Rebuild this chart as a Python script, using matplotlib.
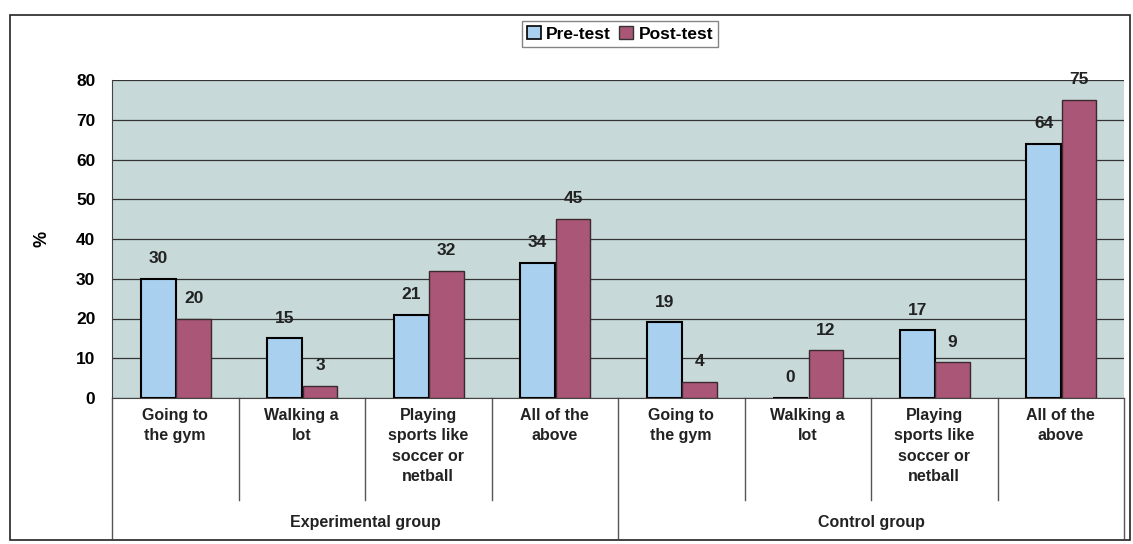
import matplotlib
matplotlib.use("Agg")
import matplotlib.pyplot as plt
from matplotlib.patches import Rectangle, Patch
from matplotlib.lines import Line2D
import numpy as np

plt.rcParams['font.family'] = ['Liberation Sans', 'DejaVu Sans']
plt.rcParams['font.weight'] = 'bold'

categories = ["Going to\nthe gym", "Walking a\nlot", "Playing\nsports like\nsoccer or\nnetball", "All of the\nabove",
              "Going to\nthe gym", "Walking a\nlot", "Playing\nsports like\nsoccer or\nnetball", "All of the\nabove"]
groups = ["Experimental group", "Control group"]
pre_test = [30, 15, 21, 34, 19, 0, 17, 64]
post_test = [20, 3, 32, 45, 4, 12, 9, 75]
yticks = [0, 10, 20, 30, 40, 50, 60, 70, 80]

W, H = 1133, 544
fig = plt.figure(figsize=(W/100, H/100), dpi=100)
fig.patch.set_facecolor('white')

left_px, right_px, top_px, bot_px = 112, 1124, 80, 398
ax = fig.add_axes([left_px/W, 1-bot_px/H, (right_px-left_px)/W, (bot_px-top_px)/H])
ax.set_facecolor('#c8d9d9')

n = len(categories)
x = np.arange(n)
bw = 0.275
c_pre = '#a9d0ef'
c_post = '#aa5676'
ax.bar(x - 0.135, pre_test, bw, color=c_pre, edgecolor='black', linewidth=1.5, zorder=3)
ax.bar(x + 0.145, post_test, bw, color=c_post, edgecolor='#3a2a2e', linewidth=1.0, zorder=3)

for i in range(n):
    ax.text(x[i] - 0.135, pre_test[i] + 3.2, str(pre_test[i]), ha='center', va='bottom',
            fontsize=12.5, fontweight='bold', color='#222222')
    ax.text(x[i] + 0.145, post_test[i] + 3.2, str(post_test[i]), ha='center', va='bottom',
            fontsize=12.5, fontweight='bold', color='#222222')

ax.set_xlim(-0.5, n - 0.5)
ax.set_ylim(0, 80)
ax.set_yticks(yticks)
ax.set_yticklabels([str(v) for v in yticks], fontsize=12.5, fontweight='bold')
ax.tick_params(axis='y', length=0, pad=12)
ax.set_xticks([])
ax.yaxis.grid(True, color='#333333', linewidth=0.9, zorder=1)
ax.set_axisbelow(True)
for s in ['top', 'right']:
    ax.spines[s].set_visible(False)
ax.spines['left'].set_color('#444444')
ax.spines['bottom'].set_color('#444444')
ax.set_ylabel('%', fontsize=13, fontweight='bold', rotation=90, labelpad=18)

trans = ax.get_xaxis_transform()
ph = bot_px - top_px

for i in range(n + 1):
    xb = i - 0.5
    if i in (0, 4, 8):
        y_end = -140 / ph
    else:
        y_end = -102 / ph
    ax.add_line(Line2D([xb, xb], [0, y_end], transform=trans, color='#555555',
                       linewidth=1.0, clip_on=False))

for i in range(n):
    ax.text(x[i], -10 / ph, categories[i], transform=trans, ha='center', va='top',
            fontsize=11.5, fontweight='bold', linespacing=1.45, color='#222222')

for g, name in enumerate(groups):
    ax.text(g * 4 + 1.5, -(522 - bot_px) / ph, name, transform=trans, ha='center',
            va='center', fontsize=11.5, fontweight='bold', color='#222222')

handles = [Patch(facecolor=c_pre, edgecolor='black', linewidth=1.2, label='Pre-test'),
           Patch(facecolor=c_post, edgecolor='#333333', linewidth=1.0, label='Post-test')]
leg = fig.legend(handles=handles, loc='center', bbox_to_anchor=(620/W, 1-34/H), ncol=2,
                 frameon=True, handlelength=0.8, handleheight=0.8,
                 handletextpad=0.3, columnspacing=0.5, borderpad=0.3, fancybox=False,
                 prop={'weight': 'bold', 'size': 12.5})
leg.get_frame().set_edgecolor('#666666')
leg.get_frame().set_linewidth(1.0)

fig.add_artist(Rectangle((10/W, 1-540/H), 1120/W, 525/H, transform=fig.transFigure,
                         fill=False, edgecolor='#222222', linewidth=1.2))

fig.savefig('out.png', dpi=100)
